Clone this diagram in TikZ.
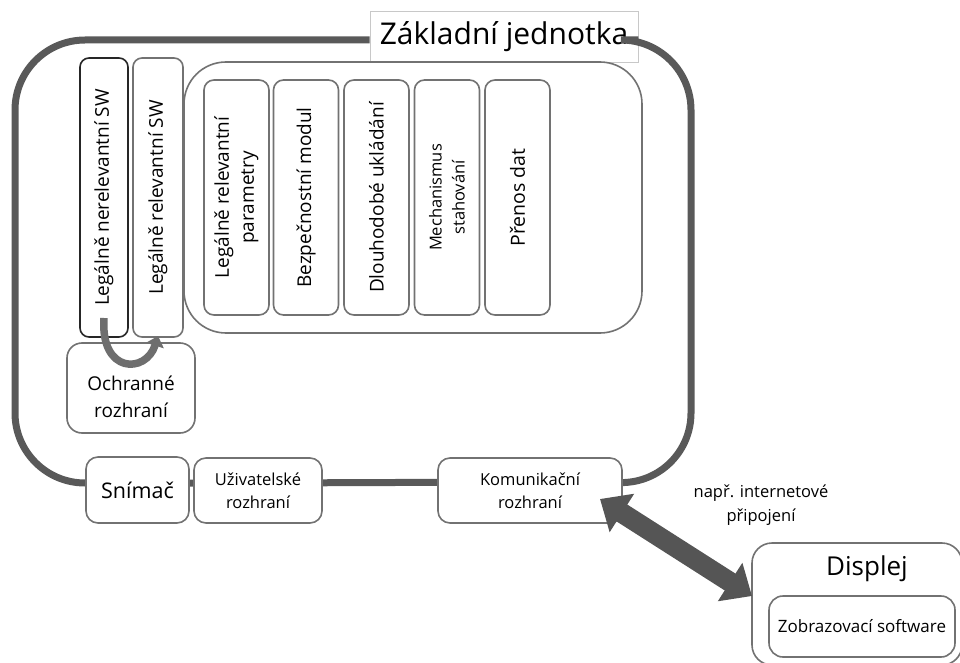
\documentclass[tikz,border=0pt]{standalone}
\usepackage{fontspec}
\setmainfont{Open Sans}
\usetikzlibrary{arrows.meta}
\definecolor{framegray}{HTML}{595959}
\definecolor{boxgray}{HTML}{727272}
\definecolor{darkedge}{HTML}{262626}
\definecolor{titleedge}{HTML}{C8C8C8}
\definecolor{arrowgray}{HTML}{555555}
\definecolor{loopgray}{HTML}{6E6E6E}
\begin{document}
\begin{tikzpicture}[x=1pt,y=-1pt,
  box/.style={draw=boxgray, line width=1.6pt, fill=white, inner sep=0pt,
    align=center, text=black, rounded corners=#1},
  box/.default=10pt,
  vbox/.style={box=#1, rotate=90},
  vbox/.default=9pt,
  frame/.style={draw=framegray, line width=7pt},
  bigarrow/.style={draw=arrowgray, line width=20pt,
    {Triangle[width=44pt,length=26pt]}-{Triangle[width=44pt,length=26pt]}},
  looparrow/.style={draw=loopgray, line width=7.5pt, -{Triangle[width=18pt,length=10pt]}},
  bigfont/.style={font=\fontsize{19}{25}\selectfont},
  smallfont/.style={font=\fontsize{16.5}{23}\selectfont}
]
\useasboundingbox (0,0) rectangle (960,663);

% title of the base unit
\node[draw=titleedge, line width=0.8pt, fill=white, minimum width=268pt, minimum height=51pt,
  inner sep=0pt, font=\fontsize{30}{34}\selectfont] (title) at (504,36.5) {Základní jednotka};

% bottom-row interfaces (placed first so the outline can run between them)
\coordinate (snc) at (137.5,490);
\coordinate (uzc) at (258,490.5);
\coordinate (komc) at (530,490.5);

% thick outline of the base unit
\draw[frame, rounded corners=70pt] (snc |- 0,483) -| (15,40) -- (title.west |- 0,40);
\draw[frame, rounded corners=70pt] (title.east |- 0,40) -| (691,483) -- (komc |- 0,482);
\draw[frame] (snc |- 0,483) -- (uzc |- 0,483) -- (komc |- 0,482);

\node[box=12pt, minimum width=103pt, minimum height=66pt, font=\fontsize{21.5}{26}\selectfont]
  (sn) at (snc) {Snímač};
\node[box=12pt, minimum width=128pt, minimum height=65pt, smallfont]
  (uz) at (uzc) {Uživatelské\\rozhraní};
\node[box=12pt, minimum width=184pt, minimum height=65pt, smallfont]
  (kom) at (komc) {Komunikační\\rozhraní};

% software partitions
\node[vbox, draw=darkedge, minimum width=279pt, minimum height=48pt, bigfont]
  (sw1) at (104,197.5) {Legálně nerelevantní SW};
\node[vbox, minimum width=279pt, minimum height=50pt, bigfont]
  (sw2) at (158,197.5) {Legálně relevantní SW};

% container of legally relevant modules
\node[box=42pt, minimum width=458pt, minimum height=271pt] (cont) at (413,197.5) {};
\node[vbox=10pt, minimum width=235pt, minimum height=65pt, bigfont]
  (m1) at (236.5,197.5) {Legálně relevantní\\parametry};
\node[vbox=10pt, minimum width=235pt, minimum height=65pt, bigfont]
  (m2) at (306,197.5) {Bezpečnostní modul};
\node[vbox=10pt, minimum width=235pt, minimum height=65pt, bigfont]
  (m3) at (376.5,197.5) {Dlouhodobé ukládání};
\node[vbox=10pt, minimum width=235pt, minimum height=65pt, smallfont]
  (m4) at (447,197.5) {Mechanismus\\stahování};
\node[vbox=10pt, minimum width=235pt, minimum height=65pt, font=\fontsize{19.5}{24}\selectfont]
  (m5) at (517.5,197.5) {Přenos dat};

% protective interface
\node[box=15pt, minimum width=128pt, minimum height=90pt] (och) at (131,388) {};
\node[font=\fontsize{19}{27}\selectfont, align=center, inner sep=0pt] (ochlbl) at (131,397)
  {Ochranné\\rozhraní};
\draw[looparrow] (sw1.center |- 0,318) .. controls (100,374) and (146,374) .. (sw2.center |- 0,336);

% display
\node[box=20pt, minimum width=210pt, minimum height=122pt] (disp) at (857,604) {};
\node[font=\fontsize{26}{30}\selectfont, inner sep=0pt] (displbl) at (867,569) {Displej};
\node[box=14pt, minimum width=186pt, minimum height=61pt, font=\fontsize{17}{20}\selectfont]
  (soft) at (862,626.5) {Zobrazovací software};

% link between communication interface and display
\coordinate (linkA) at (600,499);
\coordinate (linkB) at (752,596);
\draw[bigarrow] (linkA) -- (linkB);
\node[font=\fontsize{16.5}{24}\selectfont, align=center, inner sep=0pt] (net) at (761,505)
  {např. internetové\\připojení};
\end{tikzpicture}
\end{document}
